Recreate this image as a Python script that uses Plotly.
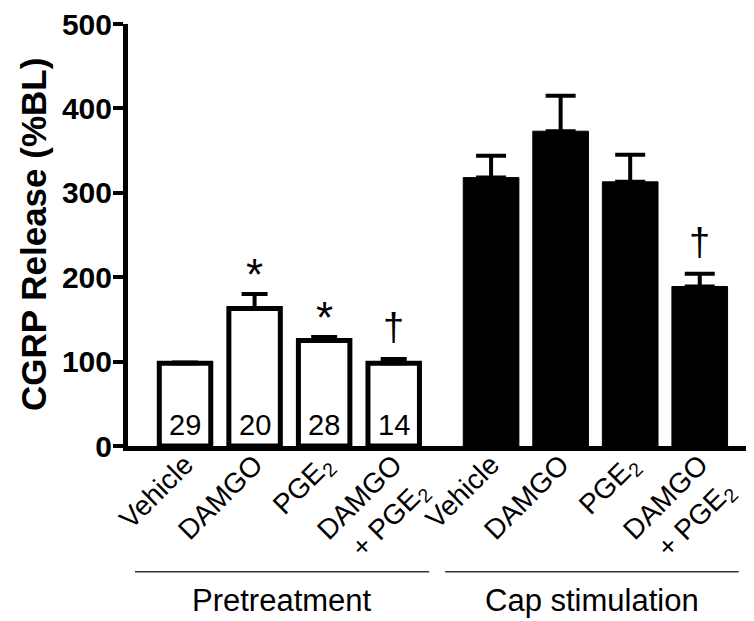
import plotly.graph_objects as go

# ---- data ----
categories = ["Vehicle", "DAMGO", "PGE<sub>2</sub>", "DAMGO<br>+ PGE<sub>2</sub>"]
groups = ["Pretreatment", "Cap stimulation"]
pre_values = [98, 163, 125, 98]
pre_errors = [1, 17, 4, 5]
cap_values = [318, 373, 313, 189]
cap_errors = [26, 42, 32, 15]
n_counts = ["29", "20", "28", "14"]
pre_marks = ["", "*", "*", "†"]
cap_marks = ["", "", "", "†"]
y_ticks = [0, 100, 200, 300, 400, 500]

FONT = "Liberation Sans, Arial, sans-serif"
GROUP_GAP = 1.4  # distance (in bar slots) between last bar of group 1 and first of group 2

ncat = len(categories)
x_pre = [float(i) for i in range(ncat)]
x_cap = [ncat - 1 + GROUP_GAP + i for i in range(ncat)]

fig = go.Figure()

fig.add_trace(go.Bar(
    x=x_pre, y=pre_values, width=0.74,
    marker=dict(color="white", line=dict(color="black", width=5)),
    error_y=dict(type="data", symmetric=False, array=pre_errors,
                 arrayminus=[0] * ncat, color="black", thickness=4, width=13),
    showlegend=False,
))
fig.add_trace(go.Bar(
    x=x_cap, y=cap_values, width=0.8,
    marker=dict(color="black", line=dict(color="black", width=1)),
    error_y=dict(type="data", symmetric=False, array=cap_errors,
                 arrayminus=[0] * ncat, color="black", thickness=4, width=15),
    showlegend=False,
))

annotations = []
# n counts inside the white bars
for x, n in zip(x_pre, n_counts):
    annotations.append(dict(x=x, y=25, xref="x", yref="y", text=n, showarrow=False,
                            font=dict(family=FONT, size=29, color="black"),
                            xanchor="center", yanchor="middle"))
# significance marks
for xs, vals, errs, marks in ((x_pre, pre_values, pre_errors, pre_marks),
                              (x_cap, cap_values, cap_errors, cap_marks)):
    for x, v, e, m in zip(xs, vals, errs, marks):
        if not m:
            continue
        if m == "*":
            annotations.append(dict(x=x, y=v + e, xref="x", yref="y", text=m, showarrow=False,
                                    font=dict(family=FONT, size=44, color="black"),
                                    xanchor="center", yanchor="middle", yshift=20))
        else:
            annotations.append(dict(x=x, y=v + e, xref="x", yref="y", text=m, showarrow=False,
                                    font=dict(family=FONT, size=38, color="black"),
                                    xanchor="center", yanchor="middle", yshift=32))

# group labels and lines
shapes = []
group_x = [(x_pre[0] - 0.72, x_pre[-1] + 0.51), (x_cap[0] - 0.66, x_cap[-1] + 0.56)]
for (x0, x1), g in zip(group_x, groups):
    shapes.append(dict(type="line", xref="x", yref="paper", x0=x0, x1=x1,
                       y0=-0.298, y1=-0.298, line=dict(color="#333333", width=1.5)))
    annotations.append(dict(x=(x0 + x1) / 2, y=-0.365, xref="x", yref="paper", text=g,
                            showarrow=False, font=dict(family=FONT, size=31, color="black"),
                            xanchor="center", yanchor="middle"))

# y-axis title
annotations.append(dict(x=0, y=0.5, xref="paper", yref="paper", text="<b>CGRP Release (%BL)</b>",
                        textangle=-90, showarrow=False, xanchor="center", yanchor="middle",
                        xshift=-95, font=dict(family=FONT, size=35, color="black")))

# the page body adds an 8px offset, so the figure is 8px smaller on each axis
fig.update_layout(
    width=746, height=613,
    margin=dict(l=120, r=0, t=16, b=175),
    paper_bgcolor="white", plot_bgcolor="white",
    barmode="overlay",
    font=dict(family=FONT, color="black"),
    annotations=annotations, shapes=shapes,
)
fig.update_xaxes(
    range=[-0.82, x_cap[-1] + 0.78],
    tickmode="array", tickvals=x_pre + x_cap, ticktext=categories + categories,
    tickangle=-45, ticks="", showgrid=False, zeroline=False,
    showline=True, linecolor="black", linewidth=5,
    tickfont=dict(family=FONT, size=28, color="black"),
    ticklabelstandoff=-14, ticklabeloverflow="allow",
)
fig.update_yaxes(
    range=[0, 500], tickmode="array", tickvals=y_ticks,
    ticktext=[f"<b>{t}</b>" for t in y_ticks],
    ticks="outside", ticklen=10, tickwidth=4, tickcolor="black",
    showgrid=False, zeroline=False,
    showline=True, linecolor="black", linewidth=5,
    tickfont=dict(family=FONT, size=30, color="black"),
    ticklabelstandoff=-5, ticklabeloverflow="allow",
)

fig.write_html("out.html")
